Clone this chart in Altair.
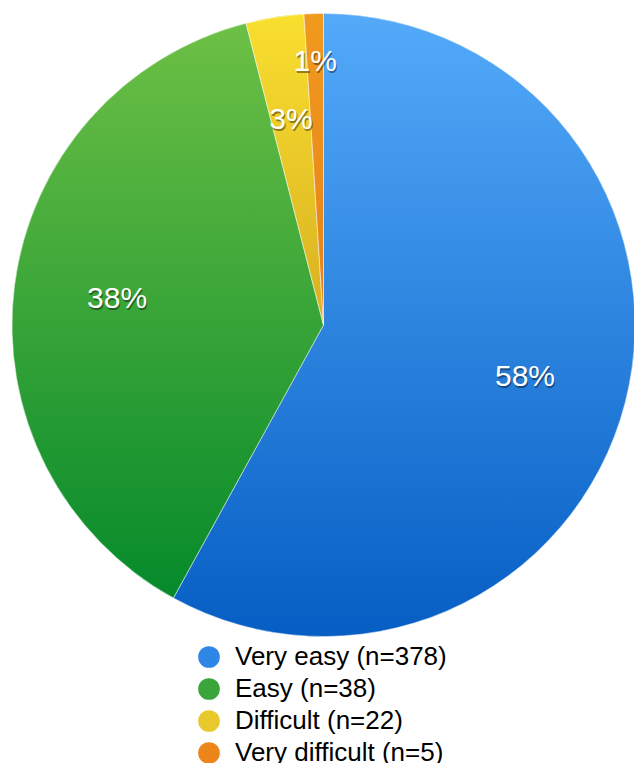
import altair as alt
import pandas as pd
import math

categories = ["Very easy", "Easy", "Difficult", "Very difficult"]
counts = [378, 38, 22, 5]
percents = [58, 38, 3, 1]

base_colors = ["#2f86e6", "#3aa53a", "#e8c82a", "#ec861a"]
grad_top = ["#54aaf9", "#6dc045", "#f9df2e", "#f09a1e"]
grad_bottom = ["#065ec4", "#058a2b", "#d8b022", "#e7801a"]

labels = [f"{c} (n={n})" for c, n in zip(categories, counts)]
ends = pd.Series(percents).cumsum().tolist()
starts = [e - p for e, p in zip(ends, percents)]

df = pd.DataFrame({
    "category": categories,
    "label": labels,
    "pct": percents,
    "start": starts,
    "end": ends,
    "mid": [(s + e) / 2 for s, e in zip(starts, ends)],
    "text": [f"{p}%" for p in percents],
})

CX, CY, R = 323.5, 325, 311.5
theta_scale = alt.Scale(domain=[0, 100], range=[0, 2 * math.pi])

base = alt.Chart(df)

legend_layer = base.mark_arc(outerRadius=R, stroke="white", strokeWidth=0.5).encode(
    theta=alt.Theta("start:Q", scale=theta_scale),
    theta2="end:Q",
    x=alt.value(CX),
    y=alt.value(CY),
    color=alt.Color(
        "label:N",
        scale=alt.Scale(domain=labels, range=base_colors),
        sort=labels,
        legend=alt.Legend(
            title=None,
            orient="none",
            legendX=196,
            legendY=644,
            symbolType="circle",
            symbolSize=470,
            symbolStrokeWidth=0,
            labelFontSize=26,
            labelFont="Liberation Sans",
            labelColor="#000000",
            labelOffset=13,
            rowPadding=6,
            padding=0,
            labelLimit=400,
        ),
    ),
)

layers = [legend_layer]
for cat, top, bot in zip(categories, grad_top, grad_bottom):
    grad = {
        "gradient": "linear",
        "x1": 0, "y1": 0, "x2": 0, "y2": 1,
        "stops": [{"offset": 0, "color": top}, {"offset": 1, "color": bot}],
    }
    layers.append(
        base.transform_filter(alt.datum.category == cat)
        .mark_arc(outerRadius=R, stroke="white", strokeWidth=0.5)
        .encode(
            theta=alt.Theta("start:Q", scale=theta_scale),
            theta2="end:Q",
            x=alt.value(CX),
            y=alt.value(CY),
            fill=alt.value(grad),
        )
    )

def text_layers(filt, radius):
    sub = base.transform_filter(filt)
    shadow = sub.mark_text(
        font="Liberation Sans", fontSize=30, color="#000000", opacity=0.4,
        align="center", baseline="middle", dx=1, dy=2,
    ).encode(
        theta=alt.Theta("mid:Q", scale=theta_scale),
        radius=alt.value(radius),
        x=alt.value(CX), y=alt.value(CY),
        text="text:N",
    )
    front = sub.mark_text(
        font="Liberation Sans", fontSize=30, color="#ffffff",
        align="center", baseline="middle",
    ).encode(
        theta=alt.Theta("mid:Q", scale=theta_scale),
        radius=alt.value(radius),
        x=alt.value(CX), y=alt.value(CY),
        text="text:N",
    )
    return [shadow, front]

layers += text_layers(alt.datum.category != "Very difficult", 208)
layers += text_layers(alt.datum.category == "Very difficult", 263)

chart = alt.layer(*layers).properties(
    width=634,
    height=763,
    autosize=alt.AutoSizeParams(type="none"),
    padding=0,
).configure_view(stroke=None)

chart.save("out.html", embed_options={"renderer": "svg", "actions": False})
